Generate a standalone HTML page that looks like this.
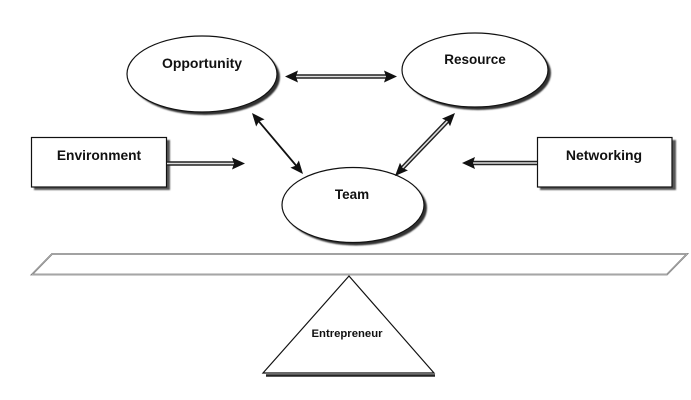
<!DOCTYPE html>
<html><head><meta charset="utf-8"><style>
html,body{margin:0;padding:0;background:#fff;}
svg{display:block;}
text{font-family:"Liberation Sans",sans-serif;font-weight:bold;fill:#111;}
</style></head><body>
<svg width="691" height="400" viewBox="0 0 691 400" xmlns="http://www.w3.org/2000/svg">
<defs>
<filter id="b" x="-10%" y="-10%" width="120%" height="120%"><feGaussianBlur stdDeviation="0.8"/></filter>
</defs>
<rect width="691" height="400" fill="#fff"/>

<!-- Opportunity -->
<ellipse cx="205" cy="77" rx="75" ry="38" fill="#333" filter="url(#b)"/>
<ellipse cx="202" cy="74" rx="75" ry="38" fill="#fff" stroke="#111" stroke-width="1.2"/>
<text x="202" y="68" font-size="14" text-anchor="middle">Opportunity</text>

<!-- Resource -->
<ellipse cx="478" cy="73" rx="73" ry="37" fill="#333" filter="url(#b)"/>
<ellipse cx="475" cy="70" rx="73" ry="37" fill="#fff" stroke="#111" stroke-width="1.2"/>
<text x="475" y="64" font-size="13.5" text-anchor="middle">Resource</text>

<!-- Team -->
<ellipse cx="356" cy="208" rx="71" ry="37.5" fill="#333" filter="url(#b)"/>
<ellipse cx="353" cy="205" rx="71" ry="37.5" fill="#fff" stroke="#111" stroke-width="1.2"/>
<text x="352" y="199" font-size="13.5" text-anchor="middle">Team</text>

<!-- Environment box -->
<rect x="34" y="140" width="136" height="50" fill="#555" filter="url(#b)"/>
<rect x="31.5" y="137.5" width="135" height="49.5" fill="#fff" stroke="#111" stroke-width="1.2"/>
<text x="99" y="160" font-size="13.8" text-anchor="middle">Environment</text>

<!-- Networking box -->
<rect x="540" y="140" width="136" height="50" fill="#555" filter="url(#b)"/>
<rect x="537.5" y="137.5" width="134.5" height="49.5" fill="#fff" stroke="#111" stroke-width="1.2"/>
<text x="604" y="160" font-size="14" text-anchor="middle">Networking</text>

<!-- Environment arrow (double line) -->
<line x1="167" y1="163.5" x2="235" y2="163.5" stroke="#222" stroke-width="4.5"/>
<line x1="167" y1="163.5" x2="235" y2="163.5" stroke="#ddd" stroke-width="1.6"/>
<polygon points="245,163.5 232,157.5 234,163.5 232,169.5" fill="#111"/>

<!-- Networking arrow -->
<line x1="537" y1="163" x2="472" y2="163" stroke="#222" stroke-width="4.5"/>
<line x1="537" y1="163" x2="472" y2="163" stroke="#ddd" stroke-width="1.6"/>
<polygon points="462,163 475,157 473,163 475,169" fill="#111"/>

<!-- Opp-Res arrow -->
<line x1="294" y1="76.5" x2="388" y2="76.5" stroke="#222" stroke-width="4.5"/>
<line x1="294" y1="76.5" x2="388" y2="76.5" stroke="#ddd" stroke-width="1.6"/>
<polygon points="285,76.5 298,70.5 296,76.5 298,82.5" fill="#111"/>
<polygon points="397,76.5 384,70.5 386,76.5 384,82.5" fill="#111"/>

<!-- Opp-Team arrow (single) -->
<line x1="256" y1="118" x2="299" y2="169" stroke="#111" stroke-width="1.8"/>
<g transform="translate(252,113) rotate(50)">
<polygon points="0,0 13,-5.5 11,0 13,5.5" fill="#111"/>
</g>
<g transform="translate(303,174) rotate(230)">
<polygon points="0,0 13,-5.5 11,0 13,5.5" fill="#111"/>
</g>

<!-- Res-Team arrow (double) -->
<line x1="448" y1="120.5" x2="402" y2="168.5" stroke="#222" stroke-width="4.5"/>
<line x1="448" y1="120.5" x2="402" y2="168.5" stroke="#ddd" stroke-width="1.6"/>
<g transform="translate(455,113) rotate(133.6)">
<polygon points="0,0 13,-5.5 11,0 13,5.5" fill="#111"/>
</g>
<g transform="translate(395,176) rotate(-46.4)">
<polygon points="0,0 13,-5.5 11,0 13,5.5" fill="#111"/>
</g>

<!-- Plank -->
<polygon points="52,254 687,254 667,274.5 32,274.5" fill="#fff" stroke="#808080" stroke-width="1.8"/>
<polygon points="52,254 687,254 667,274.5 32,274.5" fill="none" stroke="#ccc" stroke-width="0.5"/>

<!-- Triangle -->
<line x1="266" y1="375.5" x2="435" y2="375.5" stroke="#222" stroke-width="2.5"/>
<polygon points="349,276 263,373 434,373" fill="#fff" stroke="#111" stroke-width="1.2"/>
<text x="347" y="337" font-size="11" text-anchor="middle" textLength="71" lengthAdjust="spacingAndGlyphs">Entrepreneur</text>
</svg>
</body></html>
